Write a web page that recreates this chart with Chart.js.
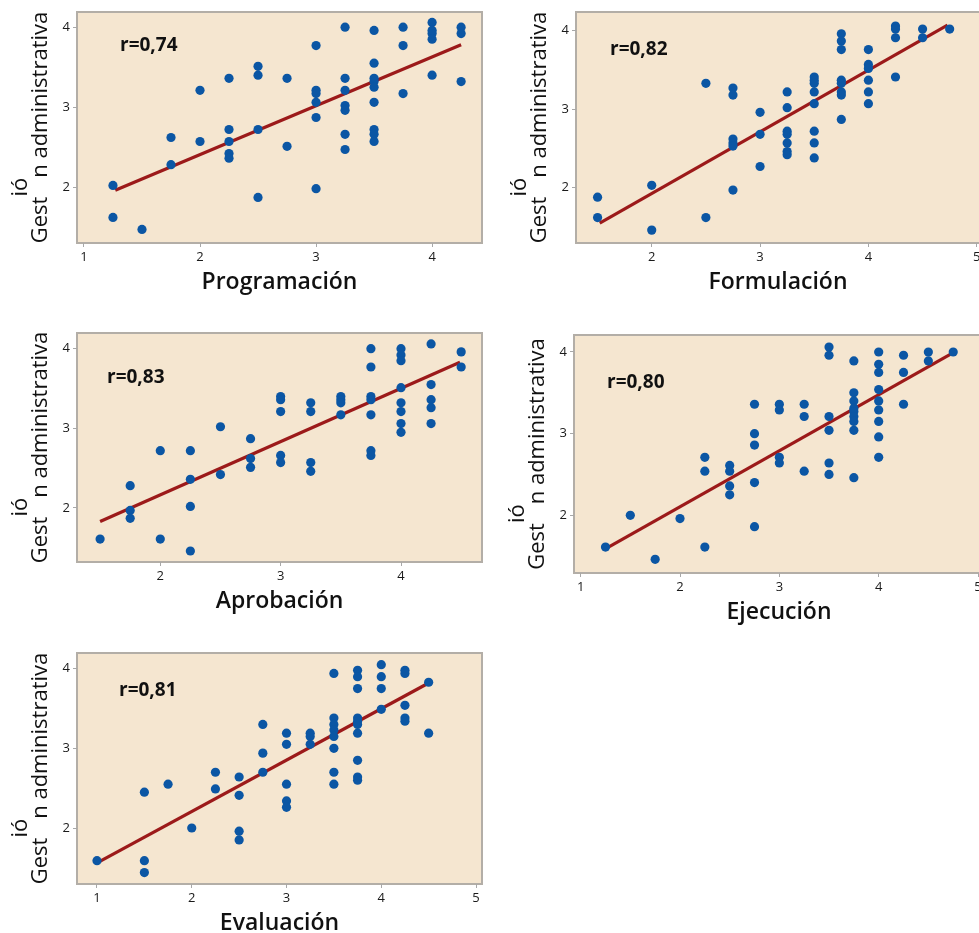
<!DOCTYPE html>
<html>
<head>
<meta charset="utf-8">
<script src="https://cdn.jsdelivr.net/npm/chart.js@4.4.1/dist/chart.umd.min.js"></script>
<style>
html,body{margin:0;padding:0;background:#ffffff;overflow:hidden;width:979px;height:933px;}
.panel{position:absolute;}
.panel canvas{display:block;}
</style>
</head>
<body>
<div class="panel" id="w0"><canvas id="c0"></canvas></div>
<div class="panel" id="w1"><canvas id="c1"></canvas></div>
<div class="panel" id="w2"><canvas id="c2"></canvas></div>
<div class="panel" id="w3"><canvas id="c3"></canvas></div>
<div class="panel" id="w4"><canvas id="c4"></canvas></div>
<script>
// ---------------- DATA ----------------
const categories = ['Programación', 'Formulación', 'Aprobación', 'Ejecución', 'Evaluación'];
const yAxisTitle = ['Gest', 'ió', 'n administrativa']; // "Gestión administrativa" as it is rendered
const rLabels = ['r=0,74', 'r=0,82', 'r=0,83', 'r=0,80', 'r=0,81'];

const yTicks = [2, 3, 4];
const xTicksProgramacion = [1, 2, 3, 4];
const xTicksFormulacion = [2, 3, 4, 5];
const xTicksAprobacion = [2, 3, 4];
const xTicksEjecucion = [1, 2, 3, 4, 5];
const xTicksEvaluacion = [1, 2, 3, 4, 5];

const programacionX = [1.25,1.25,1.5,1.75,1.75,2,2,2.25,2.25,2.25,2.25,2.25,2.5,2.5,2.5,2.5,2.75,2.75,3,3,3,3,3,3,3.25,3.25,3.25,3.25,3.25,3.25,3.25,3.5,3.5,3.5,3.5,3.5,3.5,3.5,3.5,3.5,3.75,3.75,3.75,4,4,4,4,4,4.25,4.25,4.25];
const programacionY = [2.02,1.62,1.47,2.62,2.28,3.21,2.57,3.36,2.72,2.57,2.42,2.36,3.51,3.40,2.72,1.87,3.36,2.51,3.77,3.21,3.17,3.06,2.87,1.98,4.0,3.36,3.21,3.02,2.96,2.66,2.47,3.96,3.55,3.36,3.32,3.25,3.06,2.72,2.66,2.57,4.0,3.77,3.17,4.06,3.96,3.92,3.85,3.40,4.0,3.92,3.32];
const programacionFitX = [1.27, 4.25];
const programacionFitY = [1.96, 3.78];

const formulacionX = [1.5,1.5,2,2,2.5,2.5,2.75,2.75,2.75,2.75,2.75,2.75,3,3,3,3.25,3.25,3.25,3.25,3.25,3.25,3.25,3.5,3.5,3.5,3.5,3.5,3.5,3.5,3.5,3.75,3.75,3.75,3.75,3.75,3.75,3.75,3.75,4,4,4,4,4,4,4.25,4.25,4.25,4.25,4.5,4.5,4.75];
const formulacionY = [1.88,1.62,2.03,1.46,3.33,1.62,3.27,3.18,2.62,2.57,2.53,1.97,2.96,2.68,2.27,3.22,3.02,2.72,2.68,2.57,2.46,2.42,3.41,3.37,3.33,3.22,3.07,2.72,2.57,2.38,3.96,3.87,3.76,3.37,3.33,3.22,3.18,2.87,3.76,3.57,3.52,3.37,3.22,3.07,4.06,4.02,3.91,3.41,4.02,3.91,4.02];
const formulacionFitX = [1.52, 4.73];
const formulacionFitY = [1.55, 4.07];

const aprobacionX = [1.5,1.75,1.75,1.75,2,2,2.25,2.25,2.25,2.25,2.5,2.5,2.75,2.75,2.75,3,3,3,3,3,3.25,3.25,3.25,3.25,3.5,3.5,3.5,3.5,3.75,3.75,3.75,3.75,3.75,3.75,3.75,4,4,4,4,4,4,4,4,4.25,4.25,4.25,4.25,4.25,4.5,4.5];
const aprobacionY = [1.61,2.28,1.97,1.87,2.72,1.61,2.72,2.36,2.02,1.46,3.02,2.42,2.87,2.62,2.51,3.40,3.36,3.21,2.66,2.57,3.32,3.21,2.57,2.46,3.40,3.36,3.32,3.17,4.0,3.77,3.40,3.36,3.17,2.72,2.66,4.0,3.92,3.85,3.51,3.32,3.21,3.06,2.95,4.06,3.55,3.36,3.26,3.06,3.96,3.77];
const aprobacionFitX = [1.5, 4.49];
const aprobacionFitY = [1.83, 3.83];

const ejecucionX = [1.25,1.5,1.75,2,2.25,2.25,2.25,2.5,2.5,2.5,2.5,2.75,2.75,2.75,2.75,2.75,3,3,3,3,3.25,3.25,3.25,3.5,3.5,3.5,3.5,3.5,3.5,3.75,3.75,3.75,3.75,3.75,3.75,3.75,3.75,3.75,4,4,4,4,4,4,4,4,4,4.25,4.25,4.25,4.5,4.5,4.75];
const ejecucionY = [1.61,2.0,1.46,1.96,2.71,2.54,1.61,2.61,2.54,2.36,2.25,3.36,3.0,2.86,2.40,1.86,3.36,3.29,2.71,2.64,3.36,3.21,2.54,4.06,3.96,3.21,3.04,2.64,2.50,3.89,3.50,3.40,3.31,3.27,3.21,3.15,3.04,2.46,4.0,3.85,3.75,3.54,3.40,3.29,3.15,2.96,2.71,3.96,3.75,3.36,4.0,3.89,4.0];
const ejecucionFitX = [1.28, 4.72];
const ejecucionFitY = [1.61, 3.97];

const evaluacionX = [1,1.5,1.5,1.5,1.75,2,2.25,2.25,2.5,2.5,2.5,2.5,2.75,2.75,2.75,3,3,3,3,3,3.25,3.25,3.25,3.5,3.5,3.5,3.5,3.5,3.5,3.5,3.5,3.75,3.75,3.75,3.75,3.75,3.75,3.75,3.75,3.75,3.75,4,4,4,4,4.25,4.25,4.25,4.25,4.25,4.5,4.5];
const evaluacionY = [1.59,2.45,1.59,1.44,2.55,2.0,2.70,2.49,2.64,2.41,1.96,1.85,3.30,2.94,2.70,3.19,3.05,2.55,2.34,2.26,3.19,3.15,3.05,3.94,3.38,3.30,3.23,3.15,3.0,2.70,2.55,3.98,3.90,3.75,3.38,3.34,3.30,3.19,2.85,2.64,2.60,4.05,3.90,3.75,3.49,3.98,3.94,3.54,3.38,3.34,3.83,3.19];
const evaluacionFitX = [1.03, 4.5];
const evaluacionFitY = [1.58, 3.82];

// ---------------- LAYOUT / STYLE ----------------
const FONT = "'Open Sans', 'Noto Sans', sans-serif";
const BG = '#f5e6d0';
const FRAME = '#b3aea7';
const POINT = '#0b56a4';
const FIT = '#9c1a1a';

const panels = [
  {xs: programacionX, ys: programacionY, fx: programacionFitX, fy: programacionFitY, xt: xTicksProgramacion,
   box: [0, 0, 490, 300], area: [77, 12, 482, 243], xr: [0.94, 4.43], yr: [1.30, 4.19], rpos: [43, 39]},
  {xs: formulacionX, ys: formulacionY, fx: formulacionFitX, fy: formulacionFitY, xt: xTicksFormulacion,
   box: [490, 0, 520, 300], area: [576, 12, 980, 243], xr: [1.301, 5.03], yr: [1.296, 4.238], rpos: [34, 43]},
  {xs: aprobacionX, ys: aprobacionY, fx: aprobacionFitX, fy: aprobacionFitY, xt: xTicksAprobacion,
   box: [0, 310, 490, 310], area: [77, 333, 482, 562], xr: [1.308, 4.673], yr: [1.322, 4.197], rpos: [30, 50]},
  {xs: ejecucionX, ys: ejecucionY, fx: ejecucionFitX, fy: ejecucionFitY, xt: xTicksEjecucion,
   box: [490, 310, 520, 320], area: [574, 335, 984, 573], xr: [0.933, 5.06], yr: [1.293, 4.208], rpos: [33, 53]},
  {xs: evaluacionX, ys: evaluacionY, fx: evaluacionFitX, fy: evaluacionFitY, xt: xTicksEvaluacion,
   box: [0, 630, 490, 303], area: [77, 653, 482, 884], xr: [0.789, 5.063], yr: [1.297, 4.197], rpos: [42, 43]}
];

const decor = {
  id: 'decor',
  beforeDraw(chart) {
    const {ctx, chartArea: ca} = chart;
    ctx.save();
    ctx.fillStyle = BG;
    ctx.fillRect(ca.left, ca.top, ca.right - ca.left, ca.bottom - ca.top);
    ctx.strokeStyle = FRAME;
    ctx.lineWidth = 2;
    ctx.strokeRect(ca.left, ca.top, ca.right - ca.left, ca.bottom - ca.top);
    ctx.restore();
  },
  afterDraw(chart, args, opts) {
    const {ctx, chartArea: ca} = chart;
    ctx.save();
    ctx.fillStyle = '#111111';
    // x title
    ctx.font = "600 23px " + FONT;
    ctx.textAlign = 'center';
    ctx.textBaseline = 'alphabetic';
    ctx.fillText(opts.xTitle, (ca.left + ca.right) / 2, ca.bottom + 46);
    // r label
    ctx.font = "700 19px " + FONT;
    ctx.textAlign = 'left';
    ctx.fillText(opts.rLabel, ca.left + opts.rpos[0], ca.top + opts.rpos[1]);
    // y title (rotated)
    ctx.font = "500 22px " + FONT;
    const parts = yAxisTitle;
    const w = parts.map(p => ctx.measureText(p).width);
    const total = w[0] + w[1] + w[2];
    ctx.translate(ca.left - 30, (ca.top + ca.bottom) / 2);
    ctx.rotate(-Math.PI / 2);
    let x0 = -total / 2;
    ctx.fillText(parts[0], x0, 0);
    ctx.fillText(parts[1], x0 + w[0], -20);
    ctx.fillText(parts[2], x0 + w[0] + w[1], 0);
    ctx.restore();
  }
};

panels.forEach((p, i) => {
  const wrap = document.getElementById('w' + i);
  const [bl, bt, bw, bh] = p.box;
  const [al, at, ar, ab] = p.area;
  wrap.style.left = bl + 'px';
  wrap.style.top = bt + 'px';
  const cv = document.getElementById('c' + i);
  cv.width = bw; cv.height = bh;
  cv.style.width = bw + 'px'; cv.style.height = bh + 'px';

  const pts = p.xs.map((x, k) => ({x: x, y: p.ys[k]}));
  const fit = p.fx.map((x, k) => ({x: x, y: p.fy[k]}));
  const tickFont = {family: FONT, size: 13, weight: '500'};

  new Chart(cv, {
    type: 'scatter',
    data: {
      datasets: [
        {data: pts, backgroundColor: POINT, borderWidth: 0, pointRadius: 4.6, pointHoverRadius: 4.6, order: 0},
        {data: fit, showLine: true, borderColor: FIT, borderWidth: 3.2, pointRadius: 0, fill: false, order: 1}
      ]
    },
    options: {
      responsive: false,
      animation: false,
      devicePixelRatio: 1,
      layout: {padding: {left: 0, top: at - bt, right: (bl + bw) - ar, bottom: 0}},
      plugins: {
        legend: {display: false},
        tooltip: {enabled: false},
        decor: {xTitle: categories[i], rLabel: rLabels[i], rpos: p.rpos}
      },
      scales: {
        x: {
          type: 'linear', min: p.xr[0], max: p.xr[1],
          afterBuildTicks: s => { s.ticks = p.xt.map(v => ({value: v})); },
          afterFit: s => { s.height = (bt + bh) - ab; },
          grid: {drawOnChartArea: false, drawTicks: true, tickLength: 4, color: '#a8a8a8', lineWidth: 1},
          border: {display: false},
          ticks: {font: tickFont, color: '#1a1a1a', padding: 2, maxRotation: 0, autoSkip: false}
        },
        y: {
          type: 'linear', min: p.yr[0], max: p.yr[1],
          afterBuildTicks: s => { s.ticks = yTicks.map(v => ({value: v})); },
          afterFit: s => { s.width = al - bl; },
          grid: {drawOnChartArea: false, drawTicks: true, tickLength: 4, color: '#a8a8a8', lineWidth: 1},
          border: {display: false},
          ticks: {font: tickFont, color: '#1a1a1a', padding: 3, autoSkip: false}
        }
      }
    },
    plugins: [decor]
  });
});
</script>
</body>
</html>
